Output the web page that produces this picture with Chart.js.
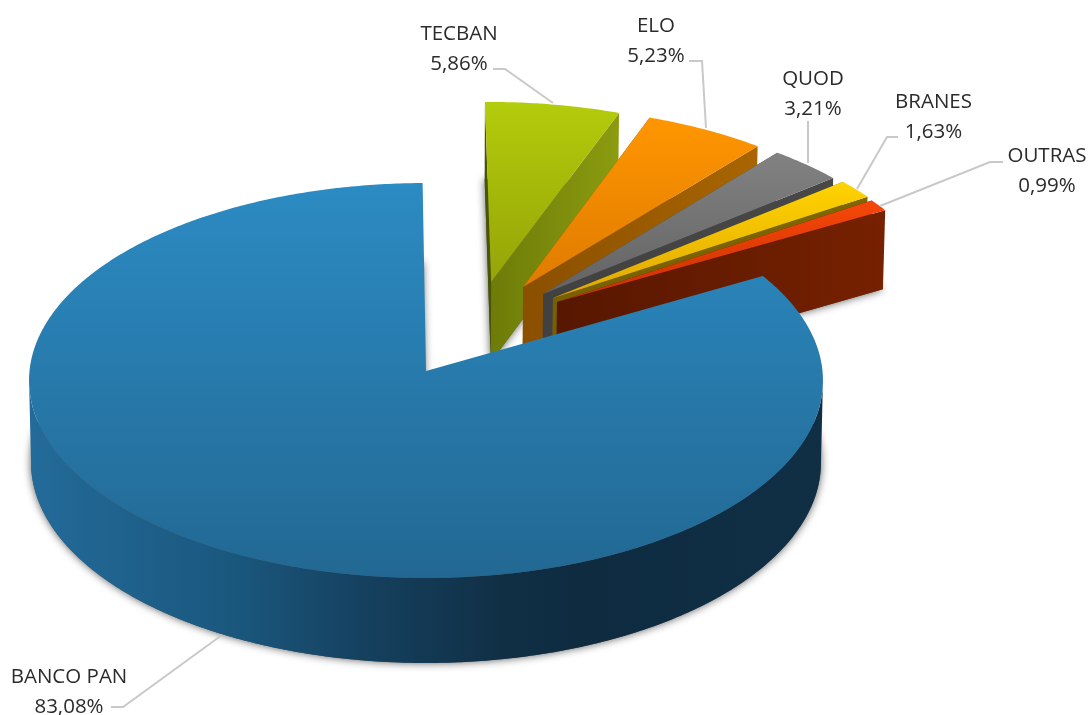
<!DOCTYPE html>
<html>
<head>
  <title>Participação</title>
  <script src="https://cdn.jsdelivr.net/npm/chart.js"></script>
  <style>
    html, body { margin: 0; background: #fff; }
    canvas { display: block; }
  </style>
</head>
<body>
  <canvas id="chart" width="1089" height="715"></canvas>
  <script>
    const labels = ['BANCO PAN', 'TECBAN', 'ELO', 'QUOD', 'BRANES', 'OUTRAS'];
    const values = [83.08, 5.86, 5.23, 3.21, 1.63, 0.99];

    // slice colours: face top, face bottom, wall light side, wall dark side
    const faceTop = ['#2c8bc3', '#b3cc0b', '#ff9600', '#828282', '#ffd300', '#f6470a'];
    const faceBottom = ['#226893', '#95a408', '#df7b00', '#636363', '#e0a800', '#c93000'];
    const wallLight = ['#236b9a', '#8b9c10', '#a96500', '#484848', '#7d6700', '#762100'];
    const wallDark = ['#0e2b40', '#6c7a08', '#8a5000', '#414141', '#776000', '#571700'];

    // how far each slice is pulled out, in pie radii
    const explodeX = [0, 0.168, 0.25, 0.301, 0.326, 0.336];
    const explodeY = [0, 0.462, 0.435, 0.398, 0.377, 0.356];

    // text and leader lines
    const labelX = [69, 459, 656, 813, 933.5, 1047];
    const labelY = [683, 40, 32, 85, 108, 162];
    const leaders = [
      [[111, 707], [123, 707], [222, 635]],
      [[493, 69], [505, 69], [553, 103]],
      [[689, 61], [702, 61], [706, 128]],
      [[808, 121], [808, 163]],
      [[898, 137], [887, 137], [857, 189]],
      [[1003, 162], [990, 162], [880, 206]]
    ];

    // camera of the tilted pie
    const apexX = 426, apexY = 371;
    const radiusX = 396.5, radiusY = 197, perspective = 0.0481;
    const depth = 81.7, depthScaleX = 0.995, depthScaleY = 1.016;

    function project(px, py, lower) {
      const w = 1 + perspective * py;
      const sx = radiusX * px / w;
      const sy = radiusY * py / w;
      if (lower) return [apexX + sx * depthScaleX, apexY - sy * depthScaleY + depth];
      return [apexX + sx, apexY - sy];
    }

    function rimPoints(i, a0, a1, lower) {
      const steps = Math.max(4, Math.ceil((a1 - a0) / 0.01));
      const rim = [];
      for (let s = 0; s <= steps; s++) {
        const a = a0 + (a1 - a0) * s / steps;
        rim.push(project(explodeX[i] + Math.sin(a), explodeY[i] + Math.cos(a), lower));
      }
      return rim;
    }

    // outline of one slice: apex first, then the rim from start to end angle
    function sliceOutline(arc, i, lower) {
      const a0 = arc.startAngle + Math.PI / 2;
      const a1 = arc.endAngle + Math.PI / 2;
      return { apex: project(explodeX[i], explodeY[i], lower), rim: rimPoints(i, a0, a1, lower) };
    }

    function tracePath(ctx, points) {
      ctx.beginPath();
      points.forEach((p, n) => n ? ctx.lineTo(p[0], p[1]) : ctx.moveTo(p[0], p[1]));
      ctx.closePath();
    }

    function wallFill(ctx, i, x0, x1) {
      const g = ctx.createLinearGradient(x0, 0, x1, 0);
      if (i === 0) {
        // the big slice gets darkest just right of the front
        g.addColorStop(0, wallLight[0]);
        g.addColorStop(0.26, '#1a577d');
        g.addColorStop(0.42, '#15415f');
        g.addColorStop(0.6, '#102f45');
        g.addColorStop(0.69, wallDark[0]);
        g.addColorStop(1, '#102f45');
      } else {
        g.addColorStop(0, wallDark[i]);
        g.addColorStop(1, wallLight[i]);
      }
      return g;
    }

    function drawSlice(ctx, arc, i) {
      const top = sliceOutline(arc, i, false);
      const low = sliceOutline(arc, i, true);
      const xs = top.rim.concat([top.apex]).map(p => p[0]);
      const ys = top.rim.concat([top.apex]).map(p => p[1]);
      const minX = Math.min(...xs), maxX = Math.max(...xs);

      if (i === 0) {
        // only the front half of the rim can be seen, between its two side extremes
        const side = Math.asin(perspective);
        const a0 = Math.PI / 2 + side, a1 = 3 * Math.PI / 2 - side;
        ctx.fillStyle = wallFill(ctx, i, minX, maxX);
        tracePath(ctx, rimPoints(i, a0, a1, false).concat(rimPoints(i, a0, a1, true).reverse()));
        ctx.fill();
      } else {
        // the two cut faces, the left one in deeper shade
        const first = top.rim[0], last = top.rim[top.rim.length - 1];
        const lowFirst = low.rim[0], lowLast = low.rim[low.rim.length - 1];
        ctx.fillStyle = i === 1 ? '#4a5500' : wallDark[i];
        tracePath(ctx, [top.apex, first, lowFirst, low.apex]);
        ctx.fill();
        ctx.fillStyle = wallFill(ctx, i, minX, maxX);
        tracePath(ctx, [top.apex, last, lowLast, low.apex]);
        ctx.fill();
      }

      // top face
      const g = ctx.createLinearGradient(0, Math.min(...ys), 0, Math.max(...ys));
      g.addColorStop(0, faceTop[i]);
      g.addColorStop(1, faceBottom[i]);
      ctx.fillStyle = g;
      tracePath(ctx, [top.apex].concat(top.rim));
      ctx.fill();
    }

    const pie3d = {
      id: 'pie3d',
      beforeDatasetsDraw(chart) {
        const ctx = chart.ctx;
        const arcs = chart.getDatasetMeta(0).data;

        // soft shadows go down first so they only land on the page
        ctx.save();
        ctx.shadowColor = 'rgba(0,0,0,0.65)';
        ctx.shadowBlur = 8;
        ctx.fillStyle = '#555';
        arcs.forEach((arc, i) => {
          const low = sliceOutline(arc, i, true);
          tracePath(ctx, [low.apex].concat(low.rim));
          ctx.fill();
        });
        ctx.restore();

        // back slices first, the big one last
        for (let i = 1; i < arcs.length; i++) drawSlice(ctx, arcs[i], i);
        drawSlice(ctx, arcs[0], 0);
        return false;
      },
      afterDraw(chart) {
        const ctx = chart.ctx;
        ctx.save();
        ctx.strokeStyle = '#c9c9c9';
        ctx.lineWidth = 2;
        leaders.forEach(line => {
          ctx.beginPath();
          line.forEach((p, n) => n ? ctx.lineTo(p[0], p[1]) : ctx.moveTo(p[0], p[1]));
          ctx.stroke();
        });
        ctx.fillStyle = '#2b2b2b';
        ctx.font = '20.5px "Open Sans"';
        ctx.textAlign = 'center';
        labels.forEach((name, i) => {
          ctx.fillText(name, labelX[i], labelY[i]);
          ctx.fillText(values[i].toFixed(2).replace('.', ',') + '%', labelX[i], labelY[i] + 30);
        });
        ctx.restore();
      }
    };

    new Chart(document.getElementById('chart'), {
      type: 'pie',
      data: {
        labels: labels,
        datasets: [{ data: values, backgroundColor: faceTop, borderWidth: 0 }]
      },
      options: {
        responsive: false,
        animation: false,
        rotation: 60.4,
        plugins: { legend: { display: false }, tooltip: { enabled: false } }
      },
      plugins: [pie3d]
    });
  </script>
</body>
</html>
